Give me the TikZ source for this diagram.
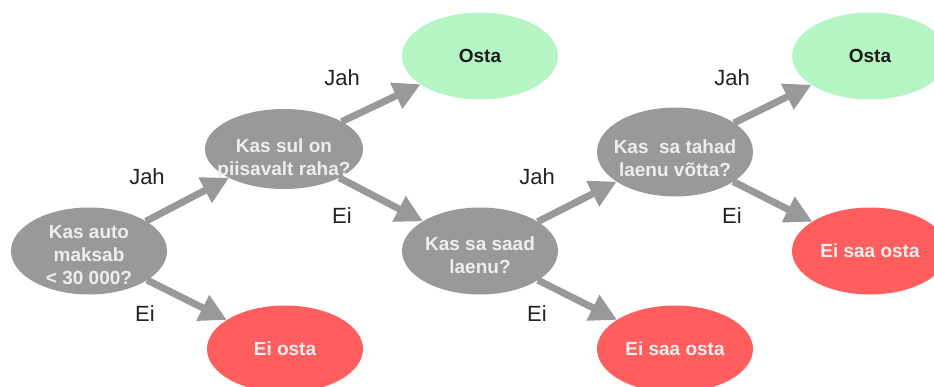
\documentclass[tikz,border=0pt]{standalone}
\usepackage{fontspec}
\setmainfont{Liberation Sans}
\usetikzlibrary{shapes.geometric,arrows.meta,calc}

\definecolor{qgray}{HTML}{999999}
\definecolor{okgreen}{HTML}{B5F5C4}
\definecolor{nored}{HTML}{FF5E5E}
\definecolor{paletext}{HTML}{EEEEEE}
\definecolor{darkink}{HTML}{1C1C1C}
\definecolor{labelink}{HTML}{222222}

\begin{document}
\begin{tikzpicture}[x=1pt,y=-1pt,
  blob/.style={ellipse, minimum width=156pt, minimum height=87pt,
    inner sep=0pt, outer sep=0pt},
  blobtext/.style={align=center, font=\bfseries\fontsize{19}{23}\selectfont},
  qtext/.style={blobtext, text=paletext},
  question/.style={blob, fill=qgray},
  buy/.style={blob, fill=okgreen, label={[blobtext, text=darkink]center:#1}},
  nobuy/.style={blob, fill=nored, label={[blobtext, text=paletext]center:#1}},
  flow/.style={draw=qgray, line width=7pt,
    -{Triangle[length=27pt,width=27pt]}},
  answer/.style={font=\fontsize{22}{26}\selectfont, text=labelink}
]
\path[use as bounding box] (0,0) rectangle (934,386);
\clip (0,0) rectangle (934,386);

% decision nodes
\node[question, label={[qtext, yshift=-4pt]center:Kas auto\\maksab\\< 30 000?}]
  (q1) at (89,251) {};
\node[question, minimum width=158pt, minimum height=80pt,
  label={[qtext, yshift=-10pt]center:Kas sul on\\piisavalt raha?}]
  (q2) at (284,149) {};
\node[question, label={[qtext, yshift=-4pt]center:Kas sa saad\\laenu?}]
  (q3) at (480,251) {};
\node[question, minimum height=89pt,
  label={[qtext, yshift=-6pt]center:Kas \ sa tahad\\laenu võtta?}]
  (q4) at (675,152) {};

% outcomes
\node[buy={Osta}] (b1) at (480,56) {};
\node[buy={Osta}] (b2) at (870,56) {};
\node[nobuy={Ei osta}] (n1) at (285,349) {};
\node[nobuy={Ei saa osta}] (n2) at (870,251) {};
\node[nobuy={Ei saa osta}] (n3) at (675,349) {};

% connectors
\draw[flow] (q1) -- (q2);
\draw[flow] (q1) -- (n1);
\draw[flow] (q2) -- (b1);
\draw[flow] (q2) -- (q3);
\draw[flow] (q3) -- (q4);
\draw[flow] (q3) -- (n3);
\draw[flow] (q4) -- (b2);
\draw[flow] (q4) -- (n2);

% branch labels
\node[answer] (y1) at (147,177) {Jah};
\node[answer] (e1) at (145,314) {Ei};
\node[answer] (y2) at (342,78) {Jah};
\node[answer] (e2) at (342,216) {Ei};
\node[answer] (y3) at (537,177) {Jah};
\node[answer] (e3) at (537,314) {Ei};
\node[answer] (y4) at (732,78) {Jah};
\node[answer] (e4) at (732,216) {Ei};
\end{tikzpicture}
\end{document}
